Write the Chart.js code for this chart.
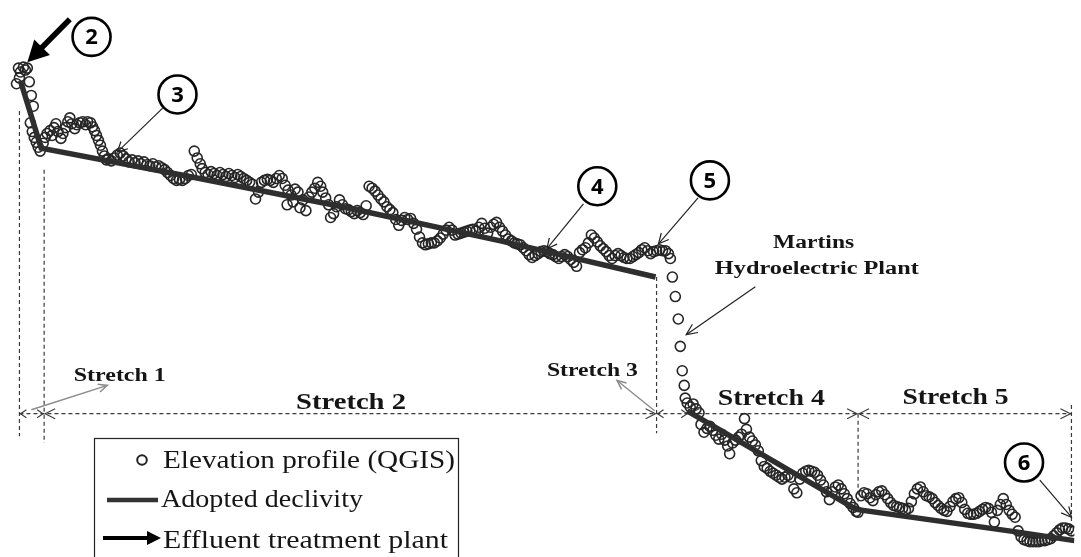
<!DOCTYPE html>
<html>
<head>
<meta charset="utf-8">
<script src="https://cdn.jsdelivr.net/npm/chart.js@4/dist/chart.umd.min.js"></script>
<style>
  html, body { margin: 0; padding: 0; background: #fff; }
  #wrap { width: 1081px; height: 557px; position: relative; }
</style>
</head>
<body>
<div id="wrap"><canvas id="profileChart"></canvas></div>
<script>
// Elevation profile (QGIS).
// dist = distance along the river, drop = vertical drop below the datum (axis reversed)
const s1Dist = [10, 12, 14, 17, 19, 21, 13, 23, 25, 27, 24, 26, 28, 30, 32, 34];
const s1Drop = [79, 63, 67, 62, 65, 63, 73, 77, 91, 102, 119, 128, 134, 139, 144, 148];

const s2Dist = [
  37, 39, 41, 44, 46, 48, 50, 52, 55, 57, 60, 62, 64, 66, 69, 71, 74, 77, 80, 82, 85, 87, 89, 91, 93, 95, 97, 99, 101,
  103, 106, 109, 112, 115, 118, 121, 124, 127, 130, 133, 136, 139, 142, 145, 148, 151, 154, 157, 160, 163, 166, 169, 172, 175, 178, 181, 184, 187,
  190, 193, 196, 198,
  201, 204, 207, 210, 213, 216, 219, 222, 225, 228, 231, 234, 237, 240, 243, 246, 249,
  252, 255, 258, 261, 264, 267, 270, 273, 276, 279, 282, 285, 288, 290, 284, 292, 295, 297, 300, 303,
  306, 309, 312, 315, 318, 320, 323, 326, 328, 331, 334, 337, 340, 343, 346, 349, 352, 355, 358, 361, 364,
  367, 370, 373, 376, 379, 382, 385, 388, 391, 394, 397, 400, 403, 406, 409, 412, 415, 418, 421, 424,
  427, 430, 433, 436, 439, 442, 445, 448, 451, 454, 457, 460, 463,
  466, 469, 472, 475, 478, 481, 484, 487, 490, 493, 496, 499, 502, 505, 508, 511, 514, 517, 520, 523,
  526, 529, 532, 535, 538, 541, 544, 547, 550, 553, 556, 559, 562, 565, 568, 571, 574, 577,
  580, 583, 586, 589, 592, 595, 598, 601, 604, 607, 610, 613, 616, 619, 622, 625, 628, 631, 634, 637,
  640, 643, 646, 649, 652, 655, 658, 661, 664, 667, 670, 672
];
const s2Drop = [
  140, 134, 130, 127, 132, 124, 120, 128, 135, 130, 124, 118, 114, 120, 125, 121, 119, 118, 121, 118, 119, 123, 127, 132, 137, 142, 148, 153, 157,
  156, 158, 155, 152, 150, 153, 156, 159, 157, 160, 158, 161, 159, 162, 163, 161, 164, 163, 165, 167, 170, 173, 176, 178, 177, 178, 176, 173, 172,
  148, 155, 161, 166,
  170, 172, 169, 171, 173, 170, 172, 174, 171, 173, 175, 172, 174, 176, 178, 180, 182,
  197, 190, 180, 178, 177, 178, 180, 176, 173, 176, 183, 188, 193, 200, 203, 187, 190, 206, 198, 209,
  195, 190, 186, 180, 184, 190, 196, 203, 216, 212, 205, 198, 203, 207, 208, 210, 212, 209, 211, 213, 204,
  184, 186, 189, 193, 197, 200, 205, 208, 211, 218, 224, 219, 216, 218, 217, 222, 228, 236, 242, 244,
  243, 242, 242, 240, 237, 233, 229, 226, 229, 234, 233, 232, 231,
  230, 229, 228, 230, 226, 222, 227, 232, 226, 223, 221, 226, 230, 234, 238, 240, 242, 243, 244, 247,
  250, 254, 257, 255, 253, 251, 250, 251, 253, 254, 256, 258, 256, 254, 256, 259, 262, 266,
  252, 249, 247, 242, 234, 237, 241, 245, 248, 251, 255, 258, 255, 253, 255, 257, 258, 258, 256, 254,
  252, 249, 247, 250, 253, 251, 250, 249, 250, 250, 253, 258
];

const s3Dist = [674, 677, 680, 682, 684, 686, 687];
const s3Drop = [277, 297, 320, 348, 373, 388, 401];

const s4Dist = [
  689, 692, 695, 698, 701, 703, 706, 709, 712, 715, 718, 721, 724, 727, 730, 732, 735, 738, 741, 744,
  747, 749, 752, 755, 758, 761, 764, 767, 770, 773, 776, 779, 782, 785, 788, 791, 794, 797, 800, 803,
  806, 809, 812, 815, 818, 821, 824, 827, 830, 833, 836, 839, 842, 845, 848, 851, 854, 857, 860
];
const s4Drop = [
  406, 410, 407, 412, 416, 428, 436, 432, 430, 434, 439, 443, 438, 444, 450, 458, 447, 444, 441, 438,
  422, 433, 441, 445, 449, 455, 465, 471, 473, 476, 478, 480, 482, 484, 482, 480, 482, 494, 498, 484,
  478, 476, 475, 476, 477, 480, 485, 490, 497, 505, 497, 492, 490, 494, 499, 504, 509, 513, 517
];

const s5Dist = [
  862, 865, 868, 871, 874, 877, 880, 883, 886, 889, 892, 895, 898, 901, 904, 907, 910, 913, 916, 919,
  922, 925, 928, 931, 934, 937, 940, 943, 946, 949, 952, 955, 958, 961, 964, 967, 970, 973, 976, 979,
  982, 985, 988, 991, 994, 997, 1000, 1003, 1006, 1009, 1012, 1015, 1018, 1021, 1024, 1027, 1030, 1033, 1036, 1039,
  1042, 1045, 1048, 1051, 1054, 1057, 1060, 1063, 1066, 1069, 1072, 1075, 1078
];
const s5Drop = [
  518, 501, 498, 499, 503, 506, 500, 497, 496, 500, 504, 508, 511, 512, 513, 514, 516, 514, 507, 499,
  494, 492, 497, 501, 502, 504, 508, 511, 514, 516, 517, 512, 507, 504, 503, 508, 515, 519, 520, 520,
  519, 517, 515, 513, 514, 518, 528, 516, 510, 504, 510, 516, 520, 523, 537, 543, 546, 547, 548, 548,
  548, 548, 547, 547, 546, 545, 542, 539, 536, 534, 534, 535, 537
];

// Adopted declivity (null = no line across the dam)
const lineDist = [14, 35, 180, 340, 500, 657, 673, 689, 860, 1022, 1081];
const lineDrop = [76, 145, 173, 205, 240, 277, null, 414, 515, 538, 547];

// Stretch limits along the dimension line
const stretchLimits = [13, 38, 658, 690, 862, 1078];

function toPoints(xs, ys) {
  return xs.map((x, i) => ({ x: x, y: ys[i] }));
}

const profilePoints = [].concat(
  toPoints(s1Dist, s1Drop),
  toPoints(s2Dist, s2Drop),
  toPoints(s3Dist, s3Drop),
  toPoints(s4Dist, s4Drop),
  toPoints(s5Dist, s5Drop)
);

const SERIF = "'Liberation Serif', 'Times New Roman', serif";
const INK = "#151515";

// text squeezed/stretched to a given width, like the figure
function fitText(ctx, text, x, y, width, font, color) {
  ctx.save();
  ctx.font = font;
  ctx.fillStyle = color || INK;
  ctx.textBaseline = "alphabetic";
  ctx.textAlign = "left";
  const w = ctx.measureText(text).width;
  ctx.translate(x, y);
  ctx.scale(width / w, 1);
  ctx.fillText(text, 0, 0);
  ctx.restore();
}

function openArrow(ctx, x1, y1, x2, y2, color, lw, len, half) {
  const a = Math.atan2(y2 - y1, x2 - x1);
  ctx.save();
  ctx.strokeStyle = color;
  ctx.lineWidth = lw;
  ctx.beginPath();
  ctx.moveTo(x1, y1);
  ctx.lineTo(x2, y2);
  ctx.stroke();
  ctx.beginPath();
  ctx.moveTo(x2 - len * Math.cos(a) + half * Math.sin(a), y2 - len * Math.sin(a) - half * Math.cos(a));
  ctx.lineTo(x2, y2);
  ctx.lineTo(x2 - len * Math.cos(a) - half * Math.sin(a), y2 - len * Math.sin(a) + half * Math.cos(a));
  ctx.stroke();
  ctx.restore();
}

function solidArrow(ctx, x1, y1, x2, y2, lw, len, half) {
  const a = Math.atan2(y2 - y1, x2 - x1);
  const bx = x2 - len * Math.cos(a), by = y2 - len * Math.sin(a);
  ctx.save();
  ctx.strokeStyle = "#000";
  ctx.fillStyle = "#000";
  ctx.lineWidth = lw;
  ctx.beginPath();
  ctx.moveTo(x1, y1);
  ctx.lineTo(bx + 2 * Math.cos(a), by + 2 * Math.sin(a));
  ctx.stroke();
  ctx.beginPath();
  ctx.moveTo(x2, y2);
  ctx.lineTo(bx + half * Math.sin(a), by - half * Math.cos(a));
  ctx.lineTo(bx - half * Math.sin(a), by + half * Math.cos(a));
  ctx.closePath();
  ctx.fill();
  ctx.restore();
}

function chevron(ctx, x, y, dir, len, half) {
  ctx.beginPath();
  ctx.moveTo(x - dir * len, y - half);
  ctx.lineTo(x, y);
  ctx.lineTo(x - dir * len, y + half);
  ctx.stroke();
}

function circledNumber(ctx, x, y, r, label) {
  ctx.save();
  ctx.beginPath();
  ctx.arc(x, y, r, 0, Math.PI * 2);
  ctx.fillStyle = "#fff";
  ctx.fill();
  ctx.lineWidth = 2.6;
  ctx.strokeStyle = "#000";
  ctx.stroke();
  ctx.fillStyle = "#000";
  ctx.font = "bold 22px 'Open Sans', 'Liberation Sans', sans-serif";
  ctx.textAlign = "center";
  ctx.textBaseline = "middle";
  ctx.fillText(label, x, y + 1);
  ctx.restore();
}

const annotationPlugin = {
  id: "profileAnnotations",
  beforeDatasetsDraw(chart) {
    const ctx = chart.ctx;
    const X = v => chart.scales.x.getPixelForValue(v);
    const Y = v => chart.scales.y.getPixelForValue(v);

    // dashed limits of the stretches
    ctx.save();
    ctx.strokeStyle = "#3a3a3a";
    ctx.lineWidth = 1.2;
    ctx.setLineDash([4, 3]);
    const verticals = [[13, 107, 440], [38, 167, 447], [658, 277, 437], [862, 417, 515], [1078, 408, 541]];
    verticals.forEach(v => {
      ctx.beginPath();
      ctx.moveTo(X(v[0]), Y(v[1]));
      ctx.lineTo(X(v[0]), Y(v[2]));
      ctx.stroke();
    });
    ctx.beginPath();
    ctx.moveTo(X(stretchLimits[0]), Y(417));
    ctx.lineTo(X(stretchLimits[stretchLimits.length - 1]), Y(417));
    ctx.stroke();
    ctx.setLineDash([]);
    ctx.lineWidth = 1.1;
    for (let i = 0; i < stretchLimits.length - 1; i++) {
      const a = X(stretchLimits[i]) + 1, b = X(stretchLimits[i + 1]) - 1;
      const small = b - a < 40;
      const len = small ? 6 : 10, half = small ? 4 : 5;
      chevron(ctx, a, Y(417), -1, len, half);
      chevron(ctx, b, Y(417), 1, len, half);
    }
    ctx.restore();
  },
  afterDatasetsDraw(chart) {
    const ctx = chart.ctx;
    const X = v => chart.scales.x.getPixelForValue(v);
    const Y = v => chart.scales.y.getPixelForValue(v);

    // effluent treatment plant arrow and node numbers
    solidArrow(ctx, X(64), Y(13), X(21), Y(57), 5.5, 21, 11);
    circledNumber(ctx, X(86), Y(31), 19, "2");
    openArrow(ctx, X(158), Y(104), X(112), Y(149), "#222", 1.2, 10, 5);
    circledNumber(ctx, X(173), Y(90), 19, "3");
    openArrow(ctx, X(584), Y(202), X(547), Y(248), "#222", 1.2, 10, 5);
    circledNumber(ctx, X(598), Y(184), 19, "4");
    openArrow(ctx, X(700), Y(196), X(660), Y(243), "#222", 1.2, 10, 5);
    circledNumber(ctx, X(712), Y(178), 19, "5");
    openArrow(ctx, X(1046), Y(485), X(1078), Y(523), "#222", 1.2, 10, 5);
    circledNumber(ctx, X(1030), Y(467), 19, "6");

    // dam label
    fitText(ctx, "Martins", X(776), Y(247), 81, "bold 18px " + SERIF);
    fitText(ctx, "Hydroelectric Plant", X(717), Y(274), 204, "bold 18px " + SERIF);
    openArrow(ctx, X(758), Y(287), X(688), Y(336), "#222", 1.2, 11, 5);

    // stretch labels
    fitText(ctx, "Stretch 1", X(68), Y(384), 92, "bold 18px " + SERIF);
    openArrow(ctx, X(25), Y(413), X(102), Y(388), "#8c8c8c", 1.5, 9, 4);
    fitText(ctx, "Stretch 2", X(293), Y(412), 110, "bold 23px " + SERIF);
    fitText(ctx, "Stretch 3", X(547), Y(378), 91, "bold 18px " + SERIF);
    openArrow(ctx, X(656), Y(414), X(618), Y(383), "#8c8c8c", 1.5, 9, 4);
    fitText(ctx, "Stretch 4", X(720), Y(408), 107, "bold 24px " + SERIF);
    fitText(ctx, "Stretch 5", X(907), Y(407), 106, "bold 24px " + SERIF);

    // legend box
    ctx.save();
    ctx.fillStyle = "#fff";
    ctx.fillRect(94, 438, 364, 130);
    ctx.strokeStyle = "#222";
    ctx.lineWidth = 1.2;
    ctx.strokeRect(94.5, 438.5, 364, 130);
    ctx.beginPath();
    ctx.arc(142, 460, 4.8, 0, Math.PI * 2);
    ctx.lineWidth = 2;
    ctx.strokeStyle = "#222";
    ctx.stroke();
    ctx.beginPath();
    ctx.moveTo(107, 500);
    ctx.lineTo(158, 500);
    ctx.lineWidth = 4.5;
    ctx.strokeStyle = "#333";
    ctx.stroke();
    ctx.restore();
    solidArrow(ctx, 103, 538, 161, 538, 4, 14, 7);
    fitText(ctx, "Elevation profile (QGIS)", 163, 468, 292, "26px " + SERIF);
    fitText(ctx, "Adopted declivity", 161, 507, 202, "26px " + SERIF);
    fitText(ctx, "Effluent treatment plant", 163, 548, 285, "26px " + SERIF);
  }
};

const ctx = document.getElementById("profileChart").getContext("2d");
new Chart(ctx, {
  type: "scatter",
  data: {
    datasets: [
      {
        label: "Adopted declivity",
        type: "line",
        data: toPoints(lineDist, lineDrop),
        borderColor: "#2e2e2e",
        borderWidth: 5.5,
        pointRadius: 0,
        spanGaps: false,
        tension: 0,
        order: 0
      },
      {
        label: "Elevation profile (QGIS)",
        data: profilePoints,
        pointRadius: 5,
        pointBorderWidth: 1.6,
        borderColor: "#262626",
        backgroundColor: "rgba(0,0,0,0)",
        order: 1
      }
    ]
  },
  options: {
    animation: false,
    responsive: true,
    maintainAspectRatio: false,
    layout: { padding: 0 },
    scales: {
      x: { type: "linear", min: 0, max: 1081, display: false },
      y: { type: "linear", min: 0, max: 557, reverse: true, display: false }
    },
    plugins: {
      legend: { display: false },
      tooltip: { enabled: false }
    }
  },
  plugins: [annotationPlugin]
});
</script>
</body>
</html>
